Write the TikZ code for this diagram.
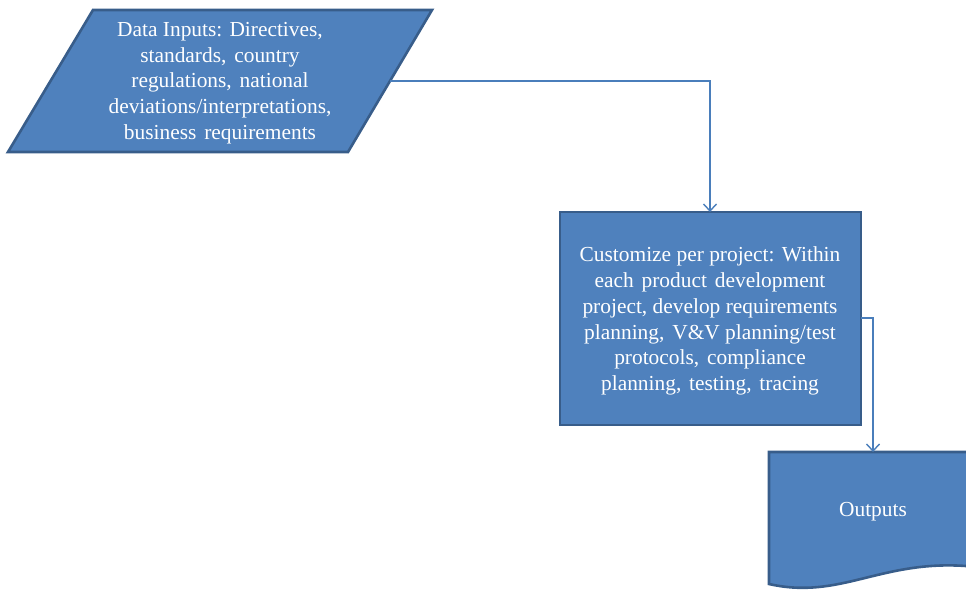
\documentclass[tikz,border=0pt]{standalone}
\usepackage{fontspec}
\setmainfont{Liberation Serif}
\usetikzlibrary{arrows.meta}
\definecolor{boxfill}{HTML}{4F81BD}
\definecolor{boxline}{HTML}{385D8A}
\definecolor{conn}{HTML}{4A7EBB}
\newcommand{\xs}{\hspace{2.5pt}}
\tikzset{
  shapebox/.style={fill=boxfill, draw=boxline, line width=2.6pt, line join=miter},
  boxtext/.style={text=white, font=\fontsize{21.4}{25.8}\selectfont, align=center, inner sep=0pt},
  link/.style={draw=conn, line width=1.4pt, -{Straight Barb[length=7pt,width=13pt,line width=1.4pt]}}
}
\begin{document}
\begin{tikzpicture}[x=1pt,y=-1pt]
\useasboundingbox (0,0) rectangle (966,590);
% parallelogram
\path[shapebox] (93,10) -- (432,10) -- (348,152) -- (8,152) -- cycle;
\node[boxtext] (inputs) at (220,83) {Data Inputs: Directives,\\ standards,\xs{} country\\ regulations,\xs{} national\\ deviations/interpretations,\\ business\xs{} requirements};
\coordinate (inR) at (390,81);
% rectangle
\path[shapebox] (560,212) rectangle (861,425);
\node[boxtext] (custom) at (710,321) {Customize per project: Within\\ each\xs{} product\xs{} development\\ project, develop requirements\\ planning,\xs{} V\&V planning/test\\ protocols,\xs{} compliance\\ planning,\xs{} testing,\xs{} tracing};
\coordinate (cusT) at (710,212);
\coordinate (cusR) at (861,318);
% document shape
\begin{scope}
\clip (0,0) rectangle (966,590);
\path[shapebox] (769,452) -- (990,452) -- (990,566) -- (966,566)
   .. controls (880,560) and (840,600) .. (769,584) -- cycle;
\end{scope}
\node[boxtext] (outputs) at (873,512) {Outputs};
\coordinate (outT) at (873,452);
% connectors
\draw[link] (inR) -| (cusT);
\draw[link] (cusR) -| (outT);
\end{tikzpicture}
\end{document}
